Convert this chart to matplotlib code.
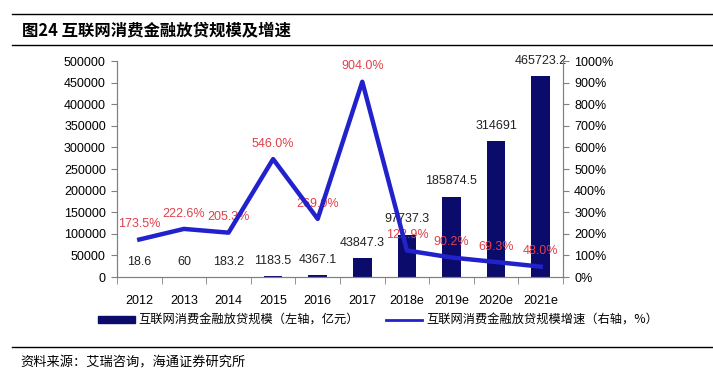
import matplotlib
matplotlib.use("Agg")
from matplotlib import pyplot as plt
from matplotlib.lines import Line2D
from matplotlib.patches import Patch
import numpy as np

plt.rcParams['font.family'] = ['Liberation Sans', 'Noto Sans CJK SC', 'DejaVu Sans']

# 数据
years = ['2012', '2013', '2014', '2015', '2016', '2017', '2018e', '2019e', '2020e', '2021e']
scale = [18.6, 60, 183.2, 1183.5, 4367.1, 43847.3, 97737.3, 185874.5, 314691, 465723.2]
scale_labels = ['18.6', '60', '183.2', '1183.5', '4367.1', '43847.3', '97737.3',
                '185874.5', '314691', '465723.2']
growth = [173.5, 222.6, 205.3, 546.0, 269.0, 904.0, 122.9, 90.2, 69.3, 48.0]

title = '图24 互联网消费金融放贷规模及增速'
bar_name = '互联网消费金融放贷规模（左轴，亿元）'
line_name = '互联网消费金融放贷规模增速（右轴，%）'
source = '资料来源：艾瑞咨询，海通证券研究所'

bar_color = '#0b0b6b'
line_color = '#2222cc'
red = '#e0404a'
grey = '#808080'
cjk = ['Noto Sans CJK SC', 'DejaVu Sans']

fig = plt.figure(figsize=(7.13, 3.78), dpi=100)
ax = fig.add_axes([117 / 713, 1 - 277 / 378, (563 - 117) / 713, (277 - 61) / 378])
ax2 = ax.twinx()

x = np.arange(len(years))
ax.bar(x, scale, width=0.42, color=bar_color, zorder=2)
ax.set_ylim(0, 500000)
ax.set_xlim(-0.5, len(years) - 0.5)
ax.set_yticks(np.arange(0, 500001, 50000))
ax.set_xticks(x)
ax.set_xticklabels(years)
ax.set_xticks(np.arange(-0.5, len(years), 1), minor=True)
ax.tick_params(axis='x', which='major', length=0, pad=13, labelsize=9)
ax.tick_params(axis='x', which='minor', length=5, color=grey, direction='out')
ax.tick_params(axis='y', length=4, color=grey, labelsize=9, pad=4)

for xi, v, s in zip(x, scale, scale_labels):
    ax.annotate(s, (xi, v), xytext=(0, 11), textcoords='offset points',
                ha='center', va='center', fontsize=9, color='#222222')

ax2.plot(x, growth, color=line_color, linewidth=3.2, zorder=3)
ax2.set_ylim(0, 1000)
ax2.set_yticks(np.arange(0, 1001, 100))
ax2.set_yticklabels([f'{v}%' for v in range(0, 1001, 100)])
ax2.tick_params(axis='y', length=4, color=grey, labelsize=9, pad=4)
for xi, g in zip(x, growth):
    ax2.annotate(f'{g:.1f}%', (xi, g), xytext=(0, 11), textcoords='offset points',
                 ha='center', va='center', fontsize=9, color=red, zorder=1)

for a in (ax, ax2):
    a.spines['top'].set_visible(False)
    for s in ('left', 'right', 'bottom'):
        a.spines[s].set_color(grey)

handles = [Patch(facecolor=bar_color, edgecolor=bar_color),
           Line2D([0], [0], color=line_color, linewidth=2)]
fig.legend(handles, [bar_name, line_name], loc='center', bbox_to_anchor=(0.53, 1 - 320 / 378),
           ncol=2, frameon=False, prop={'family': cjk, 'size': 8.8},
           handlelength=3.0, handleheight=0.5, columnspacing=2.2, handletextpad=0.3)

# 标题与分隔线
fig.add_artist(Line2D([12 / 713, 1], [1 - 14 / 378] * 2, color='black', linewidth=1))
fig.add_artist(Line2D([12 / 713, 1], [1 - 45 / 378] * 2, color='black', linewidth=1))
fig.add_artist(Line2D([12 / 713, 1], [1 - 347 / 378] * 2, color='black', linewidth=1))
fig.text(22 / 713, 1 - 30 / 378, title, fontsize=11.8, fontweight='bold', family=cjk, va='center')
fig.text(20 / 713, 1 - 363 / 378, source, fontsize=9.5, family=cjk, va='center')

fig.savefig('out.png', dpi=100)
